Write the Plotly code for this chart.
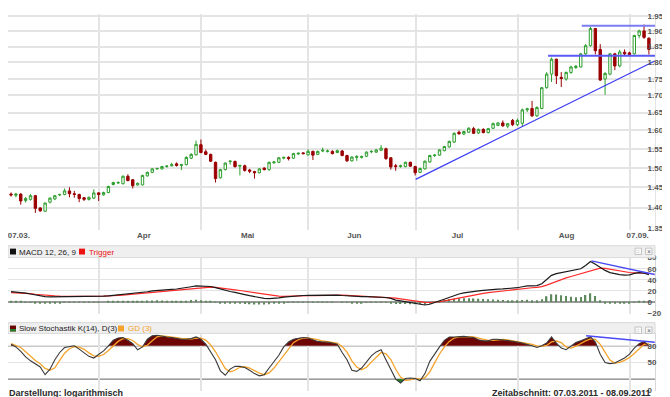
import math
import plotly.graph_objects as go

# ---------------- data (index values in points; German format ticks) ----------------
opens = [1433,1430,1433,1417,1420,1429,1399,1391,1413,1421,
         1431,1432,1441,1434,1432,1424,1420,1423,1436,1431,
         1437,1457,1461,1459,1478,1469,1456,1456,1479,1488,
         1497,1497,1503,1505,1510,1506,1508,1525,1534,1561,
         1542,1535,1514,1474,1495,1516,1516,1504,1505,1494,
         1490,1487,1499,1495,1513,1514,1525,1527,1525,1536,
         1539,1534,1543,1535,1544,1543,1543,1540,1544,1532,
         1518,1527,1527,1530,1542,1541,1546,1550,1526,1505,
         1503,1503,1514,1503,1488,1497,1515,1532,1533,1545,
         1555,1568,1595,1590,1595,1605,1593,1603,1594,1606,
         1614,1621,1612,1628,1616,1620,1658,1662,1641,1662,
         1723,1764,1810,1754,1749,1769,1784,1786,1827,1853,
         1909,1841,1749,1764,1827,1789,1832,1830,1827,1886,
         1901,1877]
highs = [1437,1436,1435,1426,1433,1431,1401,1412,1425,1431,
         1434,1447,1450,1441,1434,1426,1427,1445,1438,1439,
         1454,1464,1465,1480,1483,1471,1462,1482,1490,1499,
         1500,1505,1507,1513,1514,1510,1530,1538,1572,1575,
         1548,1537,1516,1497,1514,1520,1519,1507,1508,1497,
         1492,1499,1501,1516,1517,1528,1529,1530,1539,1540,
         1541,1549,1545,1545,1553,1548,1546,1548,1547,1534,
         1530,1533,1532,1543,1546,1549,1560,1553,1528,1510,
         1508,1516,1516,1505,1500,1519,1534,1536,1549,1558,
         1572,1595,1600,1599,1609,1610,1605,1606,1607,1622,
         1623,1628,1620,1632,1633,1662,1664,1684,1668,1725,
         1770,1815,1812,1770,1772,1790,1792,1830,1858,1915,
         1910,1858,1770,1830,1830,1840,1841,1834,1888,1905,
         1922,1880]
lows = [1427,1425,1407,1412,1417,1387,1390,1390,1410,1418,
        1428,1430,1425,1424,1413,1416,1417,1421,1416,1429,
        1435,1455,1458,1457,1465,1447,1454,1455,1477,1486,
        1495,1495,1500,1503,1503,1494,1506,1523,1532,1538,
        1533,1515,1462,1472,1493,1508,1500,1480,1490,1486,
        1472,1485,1493,1492,1510,1512,1522,1519,1523,1534,
        1535,1532,1520,1533,1541,1540,1535,1538,1530,1515,
        1516,1518,1524,1528,1538,1539,1544,1520,1495,1492,
        1500,1501,1502,1480,1486,1495,1513,1528,1531,1543,
        1553,1566,1588,1587,1593,1590,1590,1592,1592,1604,
        1612,1610,1606,1612,1612,1612,1652,1638,1638,1660,
        1720,1740,1734,1725,1744,1765,1780,1784,1822,1850,
        1825,1743,1702,1760,1776,1785,1822,1820,1825,1877,
        1875,1825]
closes = [1431,1433,1416,1422,1429,1398,1392,1411,1423,1429,
          1432,1441,1434,1432,1422,1420,1425,1436,1432,1437,
          1452,1462,1462,1478,1467,1454,1460,1480,1488,1497,
          1498,1503,1504,1508,1506,1508,1527,1535,1562,1540,
          1535,1517,1472,1495,1512,1517,1503,1506,1493,1491,
          1487,1497,1495,1514,1515,1526,1527,1524,1537,1538,
          1537,1543,1533,1543,1546,1544,1537,1545,1532,1518,
          1528,1529,1529,1541,1543,1547,1552,1524,1502,1503,
          1505,1514,1504,1487,1498,1517,1532,1533,1547,1556,
          1570,1592,1591,1597,1606,1592,1603,1594,1605,1619,
          1621,1613,1619,1616,1628,1658,1661,1641,1665,1723,
          1764,1810,1759,1751,1769,1786,1788,1827,1853,1909,
          1837,1746,1766,1827,1789,1833,1827,1825,1886,1901,
          1880,1841]

macd = [18.7,18,17,16,14.5,12.5,10.5,9.8,9.4,9.4,
        9.4,9.6,9.8,10,10,10,10,10,10.2,10.6,
        11,11.8,12.7,13.3,14,15,16,17,18.5,20,
        21,21.8,22.5,23,23.5,24.5,25.5,27.5,29,29,
        29,28,26,23.5,21,19,17.5,16,13.5,11.5,
        9.5,8,6.5,6,6.2,7.5,9,10,10.8,11.3,
        11.8,12,12.3,12.5,12.7,12.8,13,12.5,11.8,11,
        10.5,10,9.8,9.6,9.5,9.4,9,8.2,6.5,3.5,
        2,0.6,-1,-2.4,-4,-5.3,-4,-1,2.4,6,
        9.4,12,14.5,16.5,18,19,20,21,22,22.7,
        23.2,23.6,24,24.8,25.8,27.5,29,29,29.5,33,
        41,48,51.3,53,54.5,55.4,57,60,66,73,
        68,62,57,53,51,49.5,48.4,49,51.5,53,
        52,49.5]
trigger = [17,16.8,16.3,15.8,15,14,13,12.2,11.6,11.2,
           10.8,10.6,10.5,10.4,10.4,10.3,10.3,10.3,10.4,10.6,
           10.8,11.2,11.8,12.5,13.2,14,14.8,15.5,16.3,17.2,
           18,19,20,21,21.8,22.5,23.3,24,25,26,
           26.8,26.8,26.3,25.5,24.5,23.3,22,20.8,19.5,18,
           16.5,15,13.5,12.3,11.3,10.6,10.3,10.3,10.5,10.8,
           11.1,11.4,11.7,12,12.2,12.4,12.5,12.5,12.4,12.1,
           11.7,11.3,11,10.6,10.3,10,9.6,9,8.2,7,
           5.6,4.2,2.8,1.4,0.2,-0.5,-0.8,-0.6,0.5,2,
           3.8,5.7,7.6,9.5,11.2,12.8,14.2,15.6,16.9,18,
           19,20,20.9,21.8,22.7,23.7,24.8,25.7,26.5,27.8,
           30.5,34,37.5,40.6,43.5,46,48.5,50.8,53.5,57,
           59.4,61,60.5,59,57.3,55.7,54.2,53.2,52.8,52.6,
           52.4,51.5]
macd_hist = [1.5,1.2,0.8,0.3,-0.4,-1.2,-1.8,-2,-2,-1.6,
             -1.2,-0.8,-0.5,-0.3,-0.3,-0.2,-0.2,-0.2,-0.1,0,
             1,1.3,1.6,1.8,2,2.2,2.3,2.4,2.6,2.8,
             3,2.8,2.5,2.1,1.8,2,2.2,3.5,4,3.2,
             2.2,1.2,-0.3,-1.5,-2.5,-3,-3.2,-3.3,-3.5,-4,
             -4.5,-4.5,-4.5,-4,-3.3,-2.5,-1.5,-0.7,0.3,0.5,
             0.7,0.6,0.6,0.5,0.5,0.4,0.5,0,-0.6,-1.1,
             -1.2,-1.3,-1.2,-1,-0.8,-0.6,-0.6,-0.8,-1.7,-3.5,
             -3.6,-3.6,-3.8,-3.8,-4.2,-4.8,-3.2,-0.4,1.9,4,
             5.6,6.3,6.9,7,6.8,6.2,5.8,5.4,5.1,4.7,
             4.2,3.6,3.1,3,3.1,3.8,4.2,3.3,3,5.2,
             10.5,14,13.8,12.4,11,9.4,8.5,9.2,12.5,16,
             11,3,-2,-3,-3,-3,-2.5,-2,-0.5,1,
             1,-0.5]
stoch_k = [83,78,70,60,53,48,42,28,38,55,
           68,77,79,80,74,67,61,58,64,71,
           80,90,94,95,90,84,73,78,92,98,
           99,97,96,95,93,92,92,93,96,92,
           83,70,55,35,27,38,43,43,41,36,
           30,26,28,40,52,63,78,87,92,94,
           95,94,91,88,87,87,85,83,68,55,
           36,34,40,50,62,69,73,55,38,20,
           13,21,22,21,17,30,52,66,78,90,
           96,96,97,97,96,95,91,89,89,92,
           92,91,89,88,87,85,83,80,77,80,
           85,96,85,76,73,79,86,89,92,96,
           87,65,50,48,49,54,58,65,76,84,
           88,80]
stoch_d = [84,81,77,69.3,61,53.7,47.7,39.3,36,40.3,
           53.7,66.7,74.7,78.7,77.7,73.7,67.3,62,61,64.3,
           71.7,80.3,88,93,93,89.7,82.3,78.3,81,89.3,
           96.3,98,97.3,96,94.7,93.3,92.3,92.3,93.7,93.7,
           90.3,81.7,69.3,53.3,39,33.3,36,41.3,42.3,40,
           35.7,30.7,28,31.3,40,51.7,64.3,76,85.7,91,
           93.7,94.3,93.3,91,88.7,87.3,86.3,85,78.7,68.7,
           53,41.7,36.7,41.3,50.7,60.3,68,65.7,55.3,37.7,
           23.7,18,18.7,21.3,20,22.7,33,49.3,65.3,78,
           88,94,96.3,96.7,96.7,96,94,91.7,89.7,90,
           91,91.7,90.7,89.3,88,86.7,85,82.7,80,79,
           80.7,87,88.7,85.7,78,76,79.3,84.7,89,92.3,
           91.7,82.7,67.3,54.3,49,50.3,53.7,59,66.3,75,
           82.7,84]

month_grid = [18.1, 39.1, 61.0, 83.1, 104.2, 127.2]
tick_pos = [1.6, 27.3, 48.6, 70.5, 91.7, 114.1, 128.7]
tick_text = ["07.03.", "Apr", "Mai", "Jun", "Jul", "Aug", "07.09."]
price_ticks = [1350, 1400, 1450, 1500, 1550, 1600, 1650, 1700, 1750, 1800, 1850, 1900, 1950]
price_tick_text = ["1.350", "1.400", "1.450", "1.500", "1.550", "1.600", "1.650",
                   "1.700", "1.750", "1.800", "1.850", "1.900", "1.950"]
macd_ticks = [-20, 0, 20, 40, 60, 80]
stoch_ticks = [0, 50, 80]
stoch_solid_levels = [20, 80]
stoch_dot_levels = [50]

trend_x = [83.1, 132.2]
trend_y = [1470, 1804.5]
resist_hi_x = [117.2, 132.4]
resist_hi_y = [1918, 1918]
resist_lo_x = [110.3, 132.4]
resist_lo_y = [1821, 1821]
macd_div_x = [119.2, 132.2]
macd_div_y = [74.2, 49.5]
stoch_div_x = [118.1, 132.2]
stoch_div_y = [98.4, 86.6]

# ---------------- figure ----------------
W, H = 670, 397
PLOT_W = 647
FONT = "Liberation Sans, Arial, sans-serif"
xs = list(range(len(closes)))


def px(x):
    return x / PLOT_W


def py(y):
    return (H - y) / H


def clipped(xv, yv, level, above=True):
    ox, oy = [], []
    for i in range(len(xv)):
        if i > 0:
            a, b = yv[i - 1], yv[i]
            if (a - level) * (b - level) < 0:
                t = (level - a) / (b - a)
                ox.append(xv[i - 1] + t * (xv[i] - xv[i - 1]))
                oy.append(level)
        v = yv[i]
        ox.append(xv[i])
        oy.append(max(v, level) if above else min(v, level))
    return ox, oy


fig = go.Figure()

# price candles
fig.add_trace(go.Candlestick(
    x=xs, open=opens, high=highs, low=lows, close=closes,
    increasing=dict(line=dict(color="#2e9e2e", width=1), fillcolor="#ffffff"),
    decreasing=dict(line=dict(color="#9b0000", width=1), fillcolor="#9b0000"),
    whiskerwidth=0, showlegend=False, hoverinfo="skip", xaxis="x", yaxis="y"))

for lx, ly, w, c in [(trend_x, trend_y, 1.2, "#3a3af5"),
                     (resist_hi_x, resist_hi_y, 2, "#7b7bf5"),
                     (resist_lo_x, resist_lo_y, 2, "#5a5af5")]:
    fig.add_trace(go.Scatter(x=lx, y=ly, mode="lines", line=dict(color=c, width=w),
                             showlegend=False, hoverinfo="skip", xaxis="x", yaxis="y"))

# MACD
fig.add_trace(go.Bar(x=xs, y=macd_hist, width=0.28, marker=dict(color="#5e8a5e", line=dict(width=0)),
                     showlegend=False, hoverinfo="skip", xaxis="x2", yaxis="y2"))
fig.add_trace(go.Scatter(x=xs, y=trigger, mode="lines", line=dict(color="#ff2a2a", width=1.2),
                         showlegend=False, hoverinfo="skip", xaxis="x2", yaxis="y2"))
fig.add_trace(go.Scatter(x=xs, y=macd, mode="lines", line=dict(color="#1a1a1a", width=1.2),
                         showlegend=False, hoverinfo="skip", xaxis="x2", yaxis="y2"))
fig.add_trace(go.Scatter(x=macd_div_x, y=macd_div_y, mode="lines", line=dict(color="#4a4af5", width=1.5),
                         showlegend=False, hoverinfo="skip", xaxis="x2", yaxis="y2"))

# Stochastic fills
for level, above, col in [(80, True, "#6e0505"), (20, False, "#2a7d2a")]:
    fx, fy = clipped(xs, stoch_k, level, above)
    fig.add_trace(go.Scatter(x=fx, y=[level] * len(fx), mode="lines", line=dict(width=0),
                             showlegend=False, hoverinfo="skip", xaxis="x3", yaxis="y3"))
    fig.add_trace(go.Scatter(x=fx, y=fy, mode="lines", line=dict(width=0), fill="tonexty",
                             fillcolor=col, showlegend=False, hoverinfo="skip", xaxis="x3", yaxis="y3"))

fig.add_trace(go.Scatter(x=xs, y=stoch_d, mode="lines", line=dict(color="#f5a32a", width=1.3),
                         showlegend=False, hoverinfo="skip", xaxis="x3", yaxis="y3"))
fig.add_trace(go.Scatter(x=xs, y=stoch_k, mode="lines", line=dict(color="#3a3a3a", width=1.1),
                         showlegend=False, hoverinfo="skip", xaxis="x3", yaxis="y3"))
fig.add_trace(go.Scatter(x=stoch_div_x, y=stoch_div_y, mode="lines", line=dict(color="#4a4af5", width=1.5),
                         showlegend=False, hoverinfo="skip", xaxis="x3", yaxis="y3"))

xr = [-0.62, 132.25]
grid_c = "#e4e4e4"
tickfont_b = dict(family=FONT, size=8, color="#555555", weight="bold")
minor = dict(tickmode="array", tickvals=month_grid, showgrid=True, gridcolor=grid_c, gridwidth=1.5, ticks="")
STANDOFF = -10

# price axis: 1350 at px 221, 1950 at px 4.3
lo, hi = math.log10(1350), math.log10(1950)
ppl = (221 - 4.3) / (hi - lo)
y_bot_px, y_top_px = 222.0, 2.0
rng_lo = lo - (y_bot_px - 221) / ppl
rng_hi = hi + (4.3 - y_top_px) / ppl

# macd axis: 0 at 296, 80 at 250.7
mppu = (296 - 250.7) / 80
m_bot_px = 308.0
m_lo = -(m_bot_px - 296) / mppu
# stoch axis: 0 at 386, 80 at 340.7
sppu = (386 - 340.7) / 80
s_top_px, s_bot_px = 328.0, 386.5
s_hi = (386 - s_top_px) / sppu
s_lo = -(s_bot_px - 386) / sppu

fig.update_layout(
    width=W, height=H, margin=dict(l=0, r=W - PLOT_W, t=0, b=0),
    paper_bgcolor="white", plot_bgcolor="white", showlegend=False, hovermode=False,
    font=dict(family=FONT, size=8, color="#444"),
    xaxis=dict(domain=[0, 1], range=xr, anchor="y", tickmode="array", tickvals=tick_pos,
               ticktext=tick_text, showgrid=False, zeroline=False, ticks="", tickfont=tickfont_b,
               ticklabeloverflow="allow", ticklabelstandoff=-1,
               rangeslider=dict(visible=False), minor=minor, fixedrange=True),
    yaxis=dict(domain=[py(y_bot_px), py(y_top_px)], type="log", range=[rng_lo, rng_hi], side="right",
               anchor="x", tickmode="array", tickvals=price_ticks, ticktext=price_tick_text,
               showgrid=True, gridcolor=grid_c, gridwidth=1.5, zeroline=False, ticks="",
               tickfont=tickfont_b, ticklabelstandoff=STANDOFF, ticklabeloverflow="allow",
               showline=True, linecolor=grid_c, linewidth=1),
    xaxis2=dict(domain=[0, 1], range=xr, anchor="y2", showticklabels=False, showgrid=False,
                zeroline=False, ticks="", minor=minor, fixedrange=True),
    yaxis2=dict(domain=[py(m_bot_px), py(250.7)], range=[m_lo, 80], side="right", anchor="x2",
                tickmode="array", tickvals=macd_ticks, showgrid=True, gridcolor=grid_c, gridwidth=1.2,
                zeroline=True, zerolinecolor="#9a9a9a", zerolinewidth=2, ticks="", tickfont=tickfont_b,
                ticklabelstandoff=STANDOFF, ticklabeloverflow="allow",
                showline=True, linecolor="#d8d8d8", linewidth=1),
    xaxis3=dict(domain=[0, 1], range=xr, anchor="y3", showticklabels=False, showgrid=False,
                zeroline=False, ticks="", minor=minor, fixedrange=True),
    yaxis3=dict(domain=[py(s_bot_px), py(s_top_px)], range=[s_lo, s_hi], side="right", anchor="x3",
                tickmode="array", tickvals=stoch_ticks, showgrid=True, gridcolor=grid_c, gridwidth=1.2,
                zeroline=False, ticks="", tickfont=tickfont_b,
                ticklabelstandoff=STANDOFF, ticklabeloverflow="allow",
                showline=True, linecolor="#d8d8d8", linewidth=1),
)

shapes = []
for lv in stoch_solid_levels:
    shapes.append(dict(type="line", xref="x3 domain", yref="y3", x0=0, x1=1, y0=lv, y1=lv,
                       line=dict(color="#606060", width=1), layer="below"))
for lv in stoch_dot_levels:
    shapes.append(dict(type="line", xref="x3 domain", yref="y3", x0=0, x1=1, y0=lv, y1=lv,
                       line=dict(color="#7a7a7a", width=1.2, dash="dot"), layer="below"))

# header bars
for top, bot in [(238.5, 250.7), (317.0, 328.0)]:
    shapes.append(dict(type="rect", xref="paper", yref="paper", x0=0, x1=1, y0=py(bot), y1=py(top),
                       fillcolor="#efefef", line=dict(color="#d9d9d9", width=1), layer="above"))


def square(x0, y0, size, color):
    shapes.append(dict(type="rect", xref="paper", yref="paper", x0=px(x0), x1=px(x0 + size),
                       y0=py(y0 + size), y1=py(y0), fillcolor=color, line=dict(width=0), layer="above"))


square(2, 241.5, 6, "#111111")
square(71, 241.5, 6, "#ee1111")
square(2, 320.0, 6, "#6e0505")
shapes.append(dict(type="rect", xref="paper", yref="paper", x0=px(2), x1=px(8), y0=py(326), y1=py(323.5),
                   fillcolor="#2a7d2a", line=dict(width=0), layer="above"))
square(110, 320.0, 6, "#f5a32a")

# small header buttons
for top in [241.0, 321.5]:
    for x0 in [627.0, 637.5]:
        shapes.append(dict(type="rect", xref="paper", yref="paper", x0=px(x0), x1=px(x0 + 6.5),
                           y0=py(top + 6.5), y1=py(top), fillcolor="#fafafa",
                           line=dict(color="#c4c4c4", width=1), layer="above"))

fig.update_layout(shapes=shapes)

ann = []


def text(x, y, s, color="#222", size=8, weight="normal", anchor="left"):
    ann.append(dict(xref="paper", yref="paper", x=px(x), y=py(y), text=s, showarrow=False,
                    xanchor=anchor, yanchor="middle", borderpad=0,
                    font=dict(family=FONT, size=size, color=color, weight=weight)))


text(9.5, 245.2, "MACD 12, 26, 9")
text(79.5, 245.2, "Trigger", color="#ee1111")
text(9.5, 323.5, "Slow Stochastik K(14), D(3)")
text(118.5, 323.5, "GD (3)", color="#f5a32a")
for yy in [244.3, 324.8]:
    text(630.2, yy, "::", color="#666", size=6, anchor="center")
    text(640.5, yy, "×", color="#666", size=7, anchor="center")
text(0, 389.0, "Darstellung: logarithmisch", color="#2a2a2a", size=9, weight="bold")
text(644, 389.0, "Zeitabschnitt: 07.03.2011 - 08.09.2011", color="#2a2a2a", size=9, weight="bold",
     anchor="right")
fig.update_layout(annotations=ann)

fig.write_html("out.html")
